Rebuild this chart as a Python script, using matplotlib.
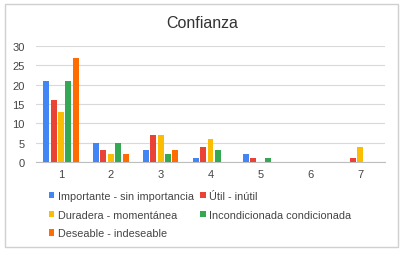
import matplotlib
matplotlib.use("Agg")
import matplotlib.pyplot as plt
import numpy as np
from matplotlib.patches import Rectangle

categories = ["1", "2", "3", "4", "5", "6", "7"]
series_names = ["Importante - sin importancia", "Útil - inútil", "Duradera - momentánea",
                "Incondicionada condicionada", "Deseable - indeseable"]
importante = [21, 5, 3, 1, 2, 0, 0]
util = [16, 3, 7, 4, 1, 0, 1]
duradera = [13, 2, 7, 6, 0, 0, 4]
incondicionada = [21, 5, 2, 3, 1, 0, 0]
deseable = [27, 2, 3, 0, 0, 0, 0]
series = [importante, util, duradera, incondicionada, deseable]
colors = ["#4285F4", "#EA4335", "#FBBC04", "#34A853", "#FF6D01"]
yticks = [0, 5, 10, 15, 20, 25, 30]

plt.rcParams['font.family'] = ['Liberation Sans', 'DejaVu Sans']
fig = plt.figure(figsize=(4.08, 2.55), dpi=100)
fig.patches.append(Rectangle((5/408, 1-248/255), 393/408, 243/255, transform=fig.transFigure,
                             fill=False, edgecolor="#d0d0d0", linewidth=1.0))

ax = fig.add_axes([36/408, 1-163/255, 349/408, 116/255])
x = np.arange(len(categories))
slot = 0.148
bw = 0.12
for i, (vals, c, name) in enumerate(zip(series, colors, series_names)):
    ax.bar(x + (i - 2) * slot, vals, width=bw, color=c, label=name, zorder=3)

ax.set_xlim(-0.5, len(categories) - 0.5)
ax.set_ylim(0, 30)
ax.set_yticks(yticks)
ax.set_xticks(x)
ax.set_xticklabels(categories)
ax.grid(axis='y', color="#d9d9d9", linewidth=0.8, zorder=0)
for s in ax.spines.values():
    s.set_visible(False)
ax.spines['bottom'].set_visible(True)
ax.spines['bottom'].set_color("#bdbdbd")
ax.tick_params(axis='both', length=0, labelsize=8, colors="#444444")
ax.tick_params(axis='y', pad=8)
ax.tick_params(axis='x', pad=5)

fig.text(202/408, 1-24/255, "Confianza", ha='center', va='center', fontsize=11.5, color="#333333")

handles, labels = ax.get_legend_handles_labels()
order = [0, 2, 4, 1, 3]
leg = fig.legend([handles[i] for i in order], [labels[i] for i in order],
                 loc='upper left', bbox_to_anchor=(49/408, 1-192/255), ncol=2,
                 frameon=False, fontsize=7.8, handlelength=0.5, handleheight=0.5,
                 handletextpad=0.3, columnspacing=0.6, labelspacing=0.8,
                 borderaxespad=0, borderpad=0)
for t in leg.get_texts():
    t.set_color("#444444")

fig.savefig("out.png", dpi=100)
